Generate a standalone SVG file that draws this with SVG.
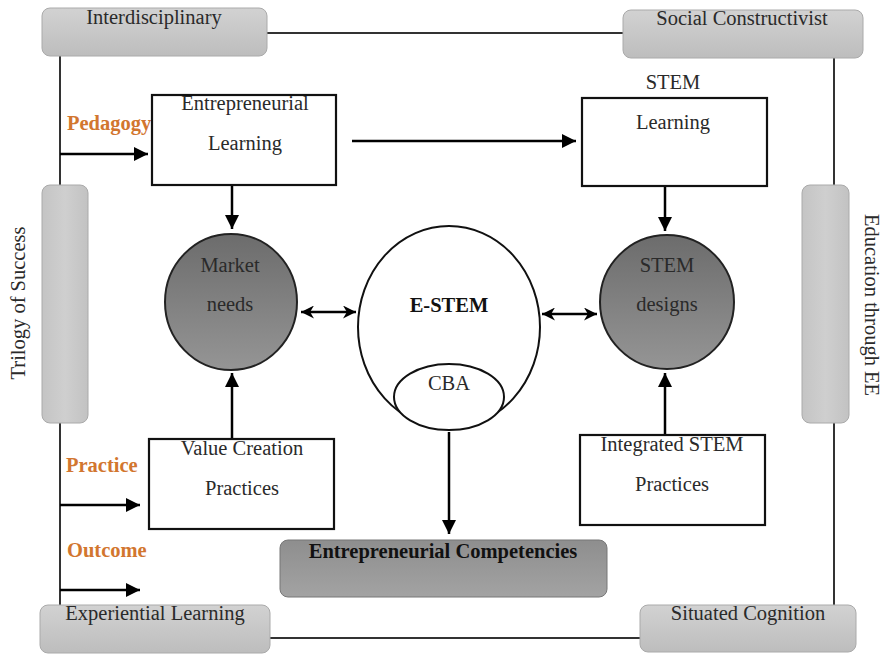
<svg xmlns="http://www.w3.org/2000/svg" width="884" height="654" viewBox="0 0 884 654">
<defs>
<linearGradient id="gV" x1="0" y1="0" x2="0" y2="1"><stop offset="0" stop-color="#d2d2d2"/><stop offset="1" stop-color="#bdbdbd"/></linearGradient>
<linearGradient id="gH" x1="0" y1="0" x2="1" y2="0"><stop offset="0" stop-color="#c4c4c4"/><stop offset="0.5" stop-color="#cfcfcf"/><stop offset="1" stop-color="#c2c2c2"/></linearGradient>
<linearGradient id="gC" x1="0" y1="0" x2="0" y2="1"><stop offset="0" stop-color="#6c6c6c"/><stop offset="1" stop-color="#959595"/></linearGradient>
<linearGradient id="gE" x1="0" y1="0" x2="0" y2="1"><stop offset="0" stop-color="#8e8e8e"/><stop offset="1" stop-color="#a3a3a3"/></linearGradient>
<marker id="ah" viewBox="0 0 10 10" refX="10" refY="5" markerWidth="14" markerHeight="14" markerUnits="userSpaceOnUse" orient="auto-start-reverse"><path d="M0,0 L10,5 L0,10 Z" fill="#000"/></marker>
<marker id="ahs" viewBox="0 0 10 10" refX="10" refY="5" markerWidth="13" markerHeight="13" markerUnits="userSpaceOnUse" orient="auto-start-reverse"><path d="M0,0 L10,5 L0,10 L3,5 Z" fill="#000"/></marker>
<style>
text{font-family:"Liberation Serif","Times New Roman",serif;font-size:20.5px;fill:#2a2a2a;text-anchor:middle}
.b{font-weight:bold;fill:#111}
.o{font-weight:bold;fill:#d2762f;text-anchor:start;font-size:20.5px}
.frame{fill:none;stroke:#333;stroke-width:2}
.gbox{fill:url(#gV);stroke:#aaa;stroke-width:1}
.vbar{fill:url(#gH);stroke:#aaa;stroke-width:1}
.wbox{fill:#fff;stroke:#111;stroke-width:2.2}
.circ{fill:url(#gC);stroke:#222;stroke-width:2}
.arr{stroke:#000;stroke-width:2.5;fill:none;marker-end:url(#ah)}
.darr{stroke:#000;stroke-width:2.5;fill:none;marker-end:url(#ahs);marker-start:url(#ahs)}
</style>
</defs>
<g id="connectors">
<path class="frame" d="M267,33 H623"/>
<path class="frame" d="M60,56 V185 M60,423 V605"/>
<path class="frame" d="M834,58 V185 M834,423 V605"/>
<path class="frame" d="M270,638 H640"/>
<path class="arr" d="M60,154 H148"/>
<path class="arr" d="M60,505 H140"/>
<path class="arr" d="M60,590 H140"/>
<path class="arr" d="M352,141 H576"/>
<path class="arr" d="M232,185 V229"/>
<path class="arr" d="M665,186 V231"/>
<path class="arr" d="M232,438 V373"/>
<path class="arr" d="M665,435 V373"/>
<path class="arr" d="M449,432 V534"/>
<path class="darr" d="M301,312 H356"/>
<path class="darr" d="M542,314 H597"/>
</g>
<g id="interdisciplinary"><rect class="gbox" x="42" y="8" width="225" height="48" rx="8"/><text x="154" y="24">Interdisciplinary</text></g>
<g id="social-constructivist"><rect class="gbox" x="623" y="10" width="240" height="48" rx="8"/><text x="742" y="25">Social Constructivist</text></g>
<g id="experiential-learning"><rect class="gbox" x="40" y="605" width="230" height="48" rx="8"/><text x="155" y="620">Experiential Learning</text></g>
<g id="situated-cognition"><rect class="gbox" x="640" y="605" width="216" height="47" rx="8"/><text x="748" y="620">Situated Cognition</text></g>
<g id="trilogy"><rect class="vbar" x="42" y="185" width="46" height="238" rx="8"/><text transform="translate(25,303) rotate(-90)">Trilogy of Success</text></g>
<g id="education-ee"><rect class="vbar" x="802" y="185" width="47" height="238" rx="8"/><text transform="translate(865,305) rotate(90)">Education through EE</text></g>
<g id="pedagogy"><text class="o" x="67" y="130">Pedagogy</text></g>
<g id="practice"><text class="o" x="66" y="472">Practice</text></g>
<g id="outcome"><text class="o" x="67" y="557">Outcome</text></g>
<g id="entrepreneurial-learning"><rect class="wbox" x="152" y="95" width="184" height="90"/><text x="245" y="110">Entrepreneurial</text><text x="245" y="150">Learning</text></g>
<g id="stem-learning"><text x="673" y="89">STEM</text><rect class="wbox" x="582" y="98" width="185" height="88"/><text x="673" y="129">Learning</text></g>
<g id="market-needs"><ellipse class="circ" cx="231" cy="302" rx="66" ry="68"/><text x="230" y="272">Market</text><text x="230" y="311">needs</text></g>
<g id="stem-designs"><ellipse class="circ" cx="667" cy="302" rx="67" ry="67"/><text x="667" y="272">STEM</text><text x="667" y="311">designs</text></g>
<g id="e-stem"><ellipse cx="449" cy="327" rx="91" ry="101" fill="#fff" stroke="#111" stroke-width="2"/><text class="b" x="449" y="312">E-STEM</text>
<g id="cba"><ellipse cx="449" cy="397" rx="55" ry="33" fill="#fff" stroke="#111" stroke-width="2"/><text x="449" y="390">CBA</text></g></g>
<g id="value-creation"><rect class="wbox" x="149" y="439" width="185" height="90"/><text x="242" y="455">Value Creation</text><text x="242" y="495">Practices</text></g>
<g id="integrated-stem"><rect class="wbox" x="580" y="435" width="185" height="90"/><text x="672" y="451">Integrated STEM</text><text x="672" y="491">Practices</text></g>
<g id="entrepreneurial-competencies"><rect x="280" y="540" width="327" height="57" rx="8" fill="url(#gE)" stroke="#777" stroke-width="1"/><text class="b" x="443" y="558">Entrepreneurial Competencies</text></g>
</svg>
